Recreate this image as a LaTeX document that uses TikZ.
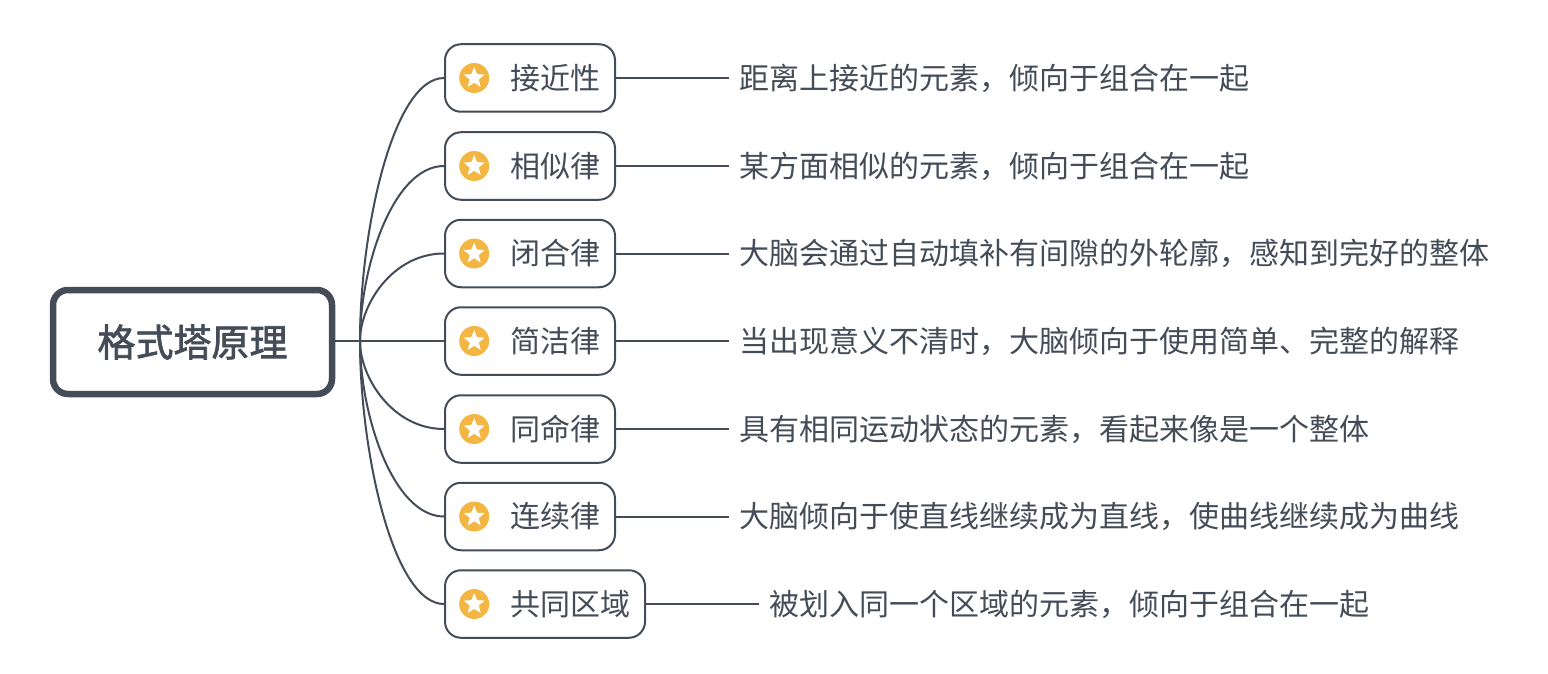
\documentclass[tikz,border=0pt]{standalone}
\usepackage{fontspec}
\setmainfont{Noto Sans CJK SC}
\newfontfamily\rootfont[FakeBold=1.8]{Noto Sans CJK SC}
\usetikzlibrary{positioning}
\usetikzlibrary{calc}
\usetikzlibrary{shapes.geometric}
\definecolor{ink}{HTML}{434C57}
\definecolor{gold}{HTML}{F4B642}
\tikzstyle{rootbox}=[draw=ink,line width=6.5pt,rounded corners=15pt,fill=white,minimum width=279pt,minimum height=104pt,inner sep=0pt,text=ink,font=\fontsize{38}{44}\selectfont\rootfont]
\tikzstyle{leaf}=[draw=ink,line width=2pt,rounded corners=16pt,fill=white,minimum height=67.5pt,inner xsep=15pt,inner ysep=0pt,text=ink,font=\fontsize{30}{36}\selectfont]
\tikzstyle{desc}=[inner xsep=10pt,inner ysep=0pt,text=ink,font=\fontsize{30}{36}\selectfont]
\tikzstyle{badge}=[circle,fill=gold,minimum size=30pt,inner sep=0pt]
\tikzstyle{starmark}=[star,star points=5,star point ratio=2.3,fill=white,minimum size=22pt,inner sep=0pt]
\tikzstyle{link} = [draw=ink,line width=2pt]

\begin{document}
\begin{tikzpicture}[x=1pt,y=-1pt]

  \useasboundingbox (0,0) rectangle (1548,674);

  \node[rootbox] (root) at (192.5,342) {格式塔原理};
  \coordinate (fork) at (360,341);
  \draw[link] (root.east |- fork) -- (fork);

  \foreach \y/\name/\label/\text in {
      78/near/接近性/距离上接近的元素，倾向于组合在一起,
      166/like/相似律/某方面相似的元素，倾向于组合在一起,
      253.5/gap/闭合律/大脑会通过自动填补有间隙的外轮廓，感知到完好的整体,
      341/easy/简洁律/当出现意义不清时，大脑倾向于使用简单、完整的解释,
      429/fate/同命律/具有相同运动状态的元素，看起来像是一个整体,
      516.5/line/连续律/大脑倾向于使直线继续成为直线，使曲线继续成为曲线,
      604/area/共同区域/被划入同一个区域的元素，倾向于组合在一起}
  {
    \node[leaf,anchor=west] (\name) at (444,\y) {\hspace*{50pt}\label};
    \node[badge,right=15pt of \name.west] (\name b) {};
    \node[starmark] (\name s) at (\name b) {};
    \node[desc,right=113pt of \name] (\name d) {\text};
    \draw[link] (\name) -- (\name d);
    \draw[link] (fork) .. controls ($(fork)!0.42!(fork |- \name.west)$) and (393,\y) .. (\name.west);
  }

\end{tikzpicture}
\end{document}
